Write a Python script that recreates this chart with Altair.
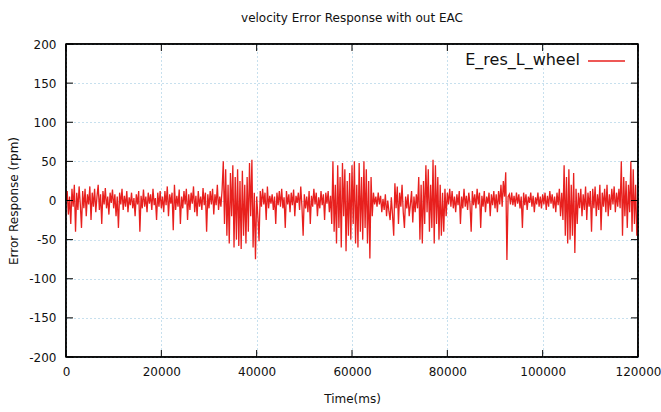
import altair as alt
import pandas as pd

step_ms = 250
err_rpm = [
    0, 12, -18, 5, -30, 15, -8, 20, -40, 10, -12, 18, -5, -35, 12, -10, 15, -20, 8, -5,
    18, -25, 10, -8, 15, -15, 5, 20, -12, 8, -30, 12, -5, 16, -10, 5, -18, 10, -3, 14,
    -10, 8, -20, 5, -35, 10, -5, 15, -12, 6, -8, 12, -15, 4, -6, 10, -10, 3, -20, 8,
    -5, 12, -40, 6, -10, 14, -8, 5, -15, 10, -4, 8, -12, 15, -6, 3, -25, 10, -8, 12,
    -10, 5, -15, 12, -6, 18, -20, 8, -4, 10, -38, 20, -12, 6, -8, 14, -30, 5, -10, 12,
    -5, 15, -25, 8, -12, 10, -4, 18, -15, 6, -20, 12, -8, 5, -12, 16, -6, 10, -40, 8,
    -10, 12, -5, 15, -18, 8, -6, 20, -12, 5, -8, 14, 50, -30, 40, -45, 20, -55, 35, -20,
    45, -60, 30, -50, 40, -58, 25, -62, 38, -45, 20, -55, 30, -40, 48, -20, 52, -60, 10, -75,
    5, -20, -52, 12, -8, 15, -5, 10, -25, 18, -10, 6, -4, 8, -12, 5, -30, 10, -6, 12,
    -8, 15, -10, 4, -35, 12, -5, 8, -15, 10, -6, 14, -20, 6, -3, 10, -12, 18, -8, -45,
    8, -10, 5, -15, 12, -30, 6, -8, 15, -5, 10, -20, 4, -10, 12, -6, 8, -25, 10, -4,
    12, -15, 6, -30, 50, -40, 20, -55, 45, -35, 30, -60, 48, -20, 40, -65, 25, -45, 35, -50,
    45, -30, 50, -55, 20, -60, 48, -40, 30, -50, 50, -35, 40, -55, 25, -74, 30, -20, 10, -5,
    5, -8, 10, -5, 6, -15, 2, -12, 8, -20, 0, -14, -25, 4, -18, -45, 22, -10, 18, -30,
    10, -8, 20, -15, -35, 5, -10, 8, -20, -5, 12, -28, 5, -15, 8, -10, 30, -50, 20, -55,
    25, -30, 45, -15, 40, -40, 20, -35, 52, -55, 45, -30, 30, -50, 20, -45, 10, -40, 15, -20,
    10, -5, 15, -8, 12, -10, 5, -15, 8, -6, 12, -30, 5, -10, 15, -8, 6, -12, 10, -4,
    -40, 12, -6, 8, -10, 15, -5, 10, -35, 6, -8, 12, -15, 5, -4, 10, -20, 8, -6, 12,
    -10, 8, -15, 12, -5, 20, -8, 25, 5, 36, -76, 5, 8, -5, 10, -6, 6, -8, 10, -4,
    8, -10, 5, -35, 10, -6, 8, -12, 5, -3, 10, -8, 6, -15, 4, -5, 10, -8, 5, -10,
    8, -5, 10, -12, 6, -8, 12, -4, 8, -10, 5, -15, 10, -6, 15, -20, 10, -25, 45, -45,
    30, -55, 40, -50, 20, -45, 35, -67, 15, -30, 10, -10, 15, -20, 8, -12, 18, -25, 10, -8,
    12, -40, 15, -10, 18, -20, 8, -12, 20, -38, 10, -8, 15, -15, 20, -20, 8, -12, 15, -5,
    18, -15, 10, -8, 15, -10, 50, -45, 30, -20, 25, -35, 20, -15, 50, -40, 40, -30, 20, -45,
    -30,
]
time_ms = [i * step_ms for i in range(len(err_rpm))]

x_ticks = [0, 20000, 40000, 60000, 80000, 100000, 120000]
y_ticks = [-200, -150, -100, -50, 0, 50, 100, 150, 200]
series_name = "E_res_L_wheel"

W, H = 572, 313
FONT = "DejaVu Sans"
RED = "#e8201e"
GRID = "#8fc0dc"

df = pd.DataFrame({"t": time_ms, "e": err_rpm})
xdf = pd.DataFrame({"t": x_ticks})
ydf = pd.DataFrame({"e": y_ticks})

xscale = alt.Scale(domain=[0, 120000], nice=False, zero=False)
yscale = alt.Scale(domain=[-200, 200], nice=False)

common = dict(grid=True, gridColor=GRID, gridDash=[1, 3], gridWidth=1,
              ticks=False, domain=False, labelFont=FONT, labelFontSize=12,
              labelColor="#111", titleFont=FONT, titleFontSize=12,
              titleFontWeight="normal", titleColor="#111", labelFlush=False,
              labelOverlap=False, labelExpr="'' + datum.value")
xaxis = alt.Axis(title="Time(ms)", values=x_ticks, labelPadding=9, titlePadding=16, **common)
yaxis = alt.Axis(title="Error Response (rpm)", values=y_ticks, labelPadding=10,
                 titlePadding=8, **common)

X = alt.X("t:Q", scale=xscale, axis=xaxis)
Y = alt.Y("e:Q", scale=yscale, axis=yaxis)

line = alt.Chart(df).mark_line(color=RED, strokeWidth=1.3, clip=True).encode(x=X, y=Y)

# inward ticks on all four sides (gnuplot style)
tb = alt.Chart(xdf).mark_rule(color="black", strokeWidth=1)
bottom_ticks = tb.encode(x=X, y=alt.value(H), y2=alt.value(H - 7))
top_ticks = tb.encode(x=X, y=alt.value(0), y2=alt.value(7))
lr = alt.Chart(ydf).mark_rule(color="black", strokeWidth=1)
left_ticks = lr.encode(y=Y, x=alt.value(0), x2=alt.value(7))
right_ticks = lr.encode(y=Y, x=alt.value(W), x2=alt.value(W - 7))

# plot border (four sides)
key_df = pd.DataFrame({"k": [series_name]})
bk = alt.Chart(key_df).mark_rule(color="black", strokeWidth=1.5)
b_top = bk.encode(x=alt.value(0), x2=alt.value(W), y=alt.value(0))
b_bot = bk.encode(x=alt.value(0), x2=alt.value(W), y=alt.value(H))
b_left = bk.encode(y=alt.value(0), y2=alt.value(H), x=alt.value(0))
b_right = bk.encode(y=alt.value(0), y2=alt.value(H), x=alt.value(W))

# legend (gnuplot key, inside top-right)
key_line = alt.Chart(key_df).mark_rule(color=RED, strokeWidth=1.5).encode(
    x=alt.value(522), x2=alt.value(559), y=alt.value(17))
key_text = alt.Chart(key_df).mark_text(
    align="right", baseline="middle", font=FONT, fontSize=16, color="#111").encode(
    text="k:N", x=alt.value(514), y=alt.value(16))

chart = alt.layer(line, bottom_ticks, top_ticks, left_ticks, right_ticks,
                  b_top, b_bot, b_left, b_right, key_line, key_text).properties(
    width=W, height=H,
    background="white",
    title=alt.TitleParams("velocity Error Response with out EAC", font=FONT, fontSize=12,
                          fontWeight="normal", color="#111", offset=13),
    autosize=alt.AutoSizeParams(type="none"),
    padding={"left": 66, "top": 44, "right": 23, "bottom": 55},
).configure_view(stroke="black", strokeWidth=1.5)

chart.save("out.html", embed_options={"renderer": "svg", "actions": False})
